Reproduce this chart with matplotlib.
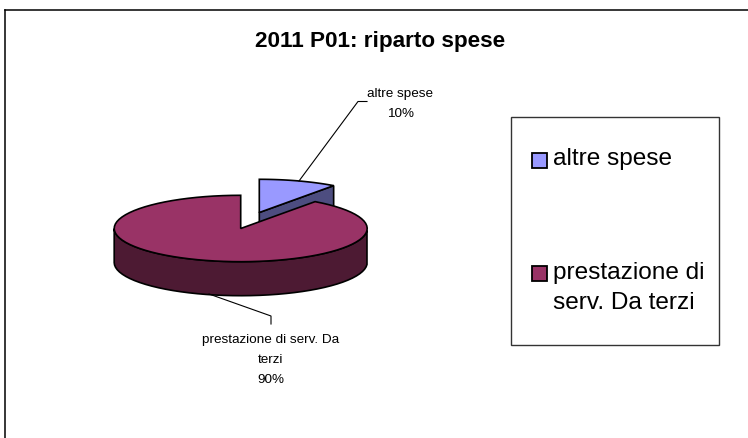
# torta finta 3d: riparto spese 2011
import numpy as np
from matplotlib import pyplot as plt
from matplotlib.patches import Polygon, Rectangle

plt.rcParams['font.family'] = ['Liberation Sans', 'DejaVu Sans']

categorie = ["altre spese", "prestazione di\nserv. Da terzi"]
etichette = ["altre spese", "prestazione di serv. Da\nterzi"]
valori = [10, 90]
colori_sopra = ["#9999FF", "#993366"]
colori_lato = ["#4D4D80", "#4D1A33"]
titolo = "2011 P01: riparto spese"

# assi in pixel
fig = plt.figure(figsize=(7.48, 4.39), dpi=100)
ax = fig.add_axes([0, 0, 1, 1])
ax.set_xlim(0, 748)
ax.set_ylim(439, 0)
ax.axis("off")

cx, cy, rx, ry, h = 240.7, 229.5, 126.5, 33.2, 34

# cornice esterna
ax.plot([5.5, 5.5], [439, 10.5], color="black", lw=1.1, zorder=1)
ax.plot([5.5, 748], [10.5, 10.5], color="black", lw=1.1, zorder=1)

ax.text(380, 41, titolo, ha="center", va="center", fontsize=16.2, fontweight="bold")


def punti(a0, a1, dx=0, dy=0, n=80):
    t = np.radians(np.linspace(a0, a1, n))
    return np.column_stack([cx + dx + rx * np.sin(t), cy + dy - ry * np.cos(t)])


totale = sum(valori)
ang = 360 * valori[0] / totale
off_x, off_y = 18.6, -16

# fetta staccata (altre spese)
apice = np.array([cx + off_x, cy + off_y])
bordo = punti(0, ang, off_x, off_y)
ax.add_patch(Polygon(np.vstack([apice, bordo[-1], bordo[-1] + [0, h], apice + [0, h]]),
                     fc=colori_lato[0], ec="black", lw=1.2, zorder=2))
ax.add_patch(Polygon(np.vstack([apice, bordo]), fc=colori_sopra[0], ec="black", lw=1.2, zorder=3))

# fetta grande: lato e sopra
arco = punti(ang, 360)
gradi = np.degrees(np.arctan2(arco[:, 0] - cx, -(arco[:, 1] - cy) * rx / ry)) % 360
vis = arco[(gradi >= 90) & (gradi <= 270)]
ax.add_patch(Polygon(np.vstack([vis, vis[::-1] + [0, h]]),
                     fc=colori_lato[1], ec="black", lw=1.2, zorder=4))
ax.add_patch(Polygon(np.vstack([[cx, cy], arco]), fc=colori_sopra[1], ec="black", lw=1.2, zorder=5))

# linee guida ed etichette
ax.plot([299, 358, 367], [182, 102.5, 102.5], color="black", lw=0.8, zorder=6)
ax.text(400.5, 94, etichette[0], ha="center", va="center", fontsize=9.7)
ax.text(400.5, 114, f"{valori[0]}%", ha="center", va="center", fontsize=9.7)
ax.plot([209, 271, 271], [295, 317, 325], color="black", lw=0.8, zorder=6)
ax.text(271, 340, etichette[1].split("\n")[0], ha="center", va="center", fontsize=9.7)
ax.text(271, 360, etichette[1].split("\n")[1], ha="center", va="center", fontsize=9.7)
ax.text(271, 380, f"{valori[1]}%", ha="center", va="center", fontsize=9.7)

# legenda
ax.add_patch(Rectangle((511, 117.5), 208.5, 229, fc="white", ec="#333333", lw=1))
ax.add_patch(Rectangle((532, 154), 15, 15, fc=colori_sopra[0], ec="black", lw=1.3))
ax.add_patch(Rectangle((532, 267), 15, 15, fc=colori_sopra[1], ec="black", lw=1.3))
ax.text(553, 159, categorie[0], va="center", fontsize=17.6)
righe = categorie[1].split("\n")
ax.text(553, 273, righe[0], va="center", fontsize=17.6)
ax.text(553, 303, righe[1], va="center", fontsize=17.6)

fig.savefig("out.png", dpi=100)
